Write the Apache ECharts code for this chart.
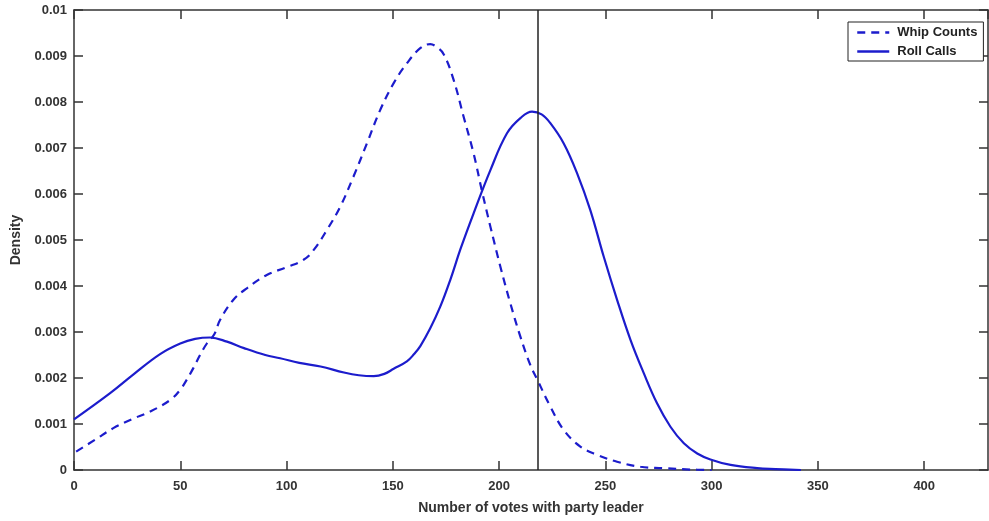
<!DOCTYPE html>
<html>
<head>
<meta charset="utf-8">
<script src="https://cdn.jsdelivr.net/npm/echarts@6/dist/echarts.min.js"></script>
<style>
  html, body { margin: 0; padding: 0; background: #ffffff; }
  #chart { width: 989px; height: 521px; }
</style>
</head>
<body>
<div id="chart"></div>
<script>
// Data
var xTickValues = [0, 50, 100, 150, 200, 250, 300, 350, 400];
var yTickValues = [0, 0.001, 0.002, 0.003, 0.004, 0.005, 0.006, 0.007, 0.008, 0.009, 0.01];
var seriesNames = ['Whip Counts', 'Roll Calls'];
var referenceLineX = 218;

var whipX = [1, 10, 18.5, 27, 35.8, 45.2, 49.9, 53, 56.2, 59.3, 62.5, 66, 68.7, 75, 81.3, 90.7, 100.1, 108, 112.7, 119, 125.2, 131.5, 137.8, 144.1, 150.4, 156.6, 162.9, 167.6, 170.5, 173.9, 178.6, 183.3, 188, 192, 195.9, 200.6, 205.3, 210, 214.7, 218, 224.1, 230.4, 238.2, 246.1, 255.5, 266.5, 277, 290, 300];
var whipY = [0.0004, 0.00066, 0.00091, 0.0011, 0.00127, 0.00152, 0.00174, 0.00196, 0.00222, 0.0025, 0.00275, 0.00295, 0.00326, 0.0037, 0.00395, 0.00424, 0.00441, 0.00457, 0.00478, 0.00522, 0.00572, 0.00638, 0.0071, 0.00783, 0.00841, 0.00884, 0.00917, 0.00926, 0.0092, 0.00904, 0.00848, 0.00768, 0.00688, 0.00605, 0.00529, 0.00442, 0.00362, 0.0029, 0.00228, 0.00196, 0.00138, 0.00087, 0.00051, 0.00033, 0.00018, 0.00007, 0.00004, 0.00001, 0];

var rollX = [0, 17, 28, 40.5, 50, 57, 64, 72, 80, 90, 97, 106, 116, 127, 134, 141, 146, 150.4, 156.6, 160, 163, 167.6, 172.3, 177, 181.8, 188, 195.9, 203.7, 210, 215.5, 220, 224.1, 230.4, 236.7, 242.9, 249.2, 255.5, 261.8, 268.1, 274.3, 280.6, 286.9, 293.2, 299.4, 308.9, 321.4, 330, 342];
var rollY = [0.0011, 0.00167, 0.00208, 0.00252, 0.00275, 0.00285, 0.00288, 0.00279, 0.00265, 0.0025, 0.00243, 0.00233, 0.00225, 0.00212, 0.00206, 0.00204, 0.00209, 0.0022, 0.00236, 0.00252, 0.0027, 0.00308, 0.00355, 0.00413, 0.0048, 0.00558, 0.00652, 0.00732, 0.00765, 0.00779, 0.00773, 0.00754, 0.0071, 0.00645, 0.00565, 0.00464, 0.0037, 0.00283, 0.0021, 0.00145, 0.00094, 0.00058, 0.00036, 0.00023, 0.00011, 0.00004, 0.00002, 0];

function zip(xs, ys) { return xs.map(function (x, i) { return [x, ys[i]]; }); }

var lineColor = '#1c1ccc';
var axisColor = '#333333';
var fontFam = '"Liberation Sans", Arial, sans-serif';

var chart = echarts.init(document.getElementById('chart'), null, { renderer: 'canvas' });

var xCommon = {
  type: 'value', min: 0, max: 430, interval: 50,
  splitLine: { show: false },
  axisLine: { show: true, onZero: false, lineStyle: { color: axisColor, width: 1.5 } },
  axisTick: { show: true, inside: true, length: 9, lineStyle: { color: axisColor, width: 1.5 } }
};
var yCommon = {
  type: 'value', min: 0, max: 0.01, interval: 0.001,
  splitLine: { show: false },
  axisLine: { show: true, onZero: false, lineStyle: { color: axisColor, width: 1.5 } },
  axisTick: { show: true, inside: true, length: 9, lineStyle: { color: axisColor, width: 1.5 } }
};

var option = {
  animation: false,
  backgroundColor: '#ffffff',
  grid: { left: 74, right: 1, top: 10, bottom: 51, containLabel: false },
  legend: {
    orient: 'vertical',
    left: 848, top: 22,
    data: seriesNames,
    itemWidth: 32, itemHeight: 10, itemGap: 6,
    padding: [4, 6, 3, 8],
    borderColor: '#222222', borderWidth: 1,
    backgroundColor: '#ffffff',
    itemStyle: { opacity: 0 },
    lineStyle: { width: 2.5 },
    textStyle: { fontFamily: fontFam, fontWeight: 'bold', fontSize: 13, color: '#222222', padding: [0, 0, 0, 3] }
  },
  xAxis: [
    Object.assign({}, xCommon, {
      position: 'bottom',
      name: 'Number of votes with party leader',
      nameLocation: 'middle', nameGap: 31,
      nameTextStyle: { fontFamily: fontFam, fontWeight: 'bold', fontSize: 14, color: axisColor },
      axisLabel: {
        margin: 10, showMaxLabel: false,
        fontFamily: fontFam, fontWeight: 'bold', fontSize: 13, color: axisColor,
        formatter: function (v) { return xTickValues.indexOf(v) >= 0 ? String(v) : ''; }
      }
    }),
    Object.assign({}, xCommon, { position: 'top', axisLabel: { show: false } })
  ],
  yAxis: [
    Object.assign({}, yCommon, {
      position: 'left',
      name: 'Density',
      nameLocation: 'middle', nameGap: 45,
      nameTextStyle: { fontFamily: fontFam, fontWeight: 'bold', fontSize: 14, color: axisColor },
      axisLabel: {
        margin: 7,
        fontFamily: fontFam, fontWeight: 'bold', fontSize: 13, color: axisColor,
        formatter: function (v) {
          var r = Math.round(v * 1000) / 1000;
          for (var i = 0; i < yTickValues.length; i++) {
            if (Math.abs(yTickValues[i] - r) < 1e-9) return String(yTickValues[i]);
          }
          return '';
        }
      }
    }),
    Object.assign({}, yCommon, { position: 'right', axisLabel: { show: false } })
  ],
  series: [
    {
      name: seriesNames[0],
      type: 'line',
      xAxisIndex: 0, yAxisIndex: 0,
      data: zip(whipX, whipY),
      smooth: 0.4,
      symbol: 'none',
      color: lineColor,
      lineStyle: { color: lineColor, width: 2.2, type: [8, 6] }
    },
    {
      name: seriesNames[1],
      type: 'line',
      xAxisIndex: 0, yAxisIndex: 0,
      data: zip(rollX, rollY),
      smooth: 0.4,
      symbol: 'none',
      color: lineColor,
      lineStyle: { color: lineColor, width: 2.2, type: 'solid' },
      markLine: {
        silent: true,
        symbol: ['none', 'none'],
        label: { show: false },
        lineStyle: { color: '#222222', width: 1.5, type: 'solid' },
        data: [{ xAxis: referenceLineX }]
      }
    }
  ]
};

chart.setOption(option);
</script>
</body>
</html>
